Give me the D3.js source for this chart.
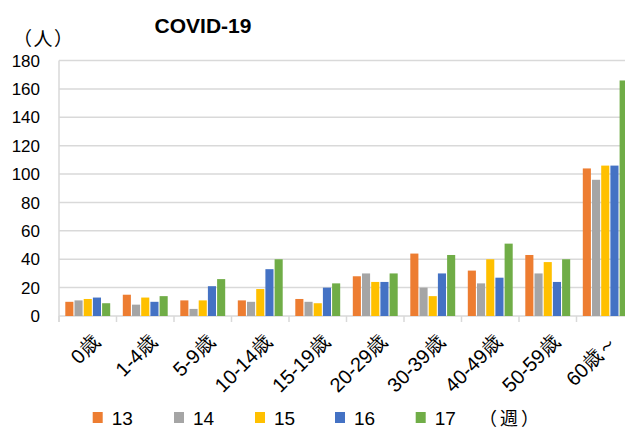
<!DOCTYPE html>
<html><head><meta charset="utf-8">
<script src="https://cdn.jsdelivr.net/npm/d3@7/dist/d3.min.js"></script>
<style>body{margin:0;background:#fff;overflow:hidden}svg{display:block}</style>
</head><body>
<script>
const categories = ["0歳","1-4歳","5-9歳","10-14歳","15-19歳","20-29歳","30-39歳","40-49歳","50-59歳","60歳～"];
const seriesNames = ["13","14","15","16","17"];
const w13 = [10,15,11,11,12,28,44,32,43,104];
const w14 = [11,8,5,10,10,30,20,23,30,96];
const w15 = [12,13,11,19,9,24,14,40,38,106];
const w16 = [13,10,21,33,20,24,30,27,24,106];
const w17 = [9,14,26,40,23,30,43,51,40,166];
const seriesValues = [w13,w14,w15,w16,w17];
const colors = ["#ED7D31","#A5A5A5","#FFC000","#4472C4","#70AD47"];
const yTicks = [0,20,40,60,80,100,120,140,160,180];

const W = 625, H = 430;
const svg = d3.select("body").append("svg").attr("width", W).attr("height", H);
const font = "'Liberation Sans', Arial, sans-serif";
const cjk = "'Noto Sans CJK JP', sans-serif";

const x0 = d3.scaleBand().domain(categories).range([59, 634]).paddingInner(0).paddingOuter(0);
const bw = x0.bandwidth();
const x1 = d3.scaleBand().domain(seriesNames).range([6.3, bw - 6.3]).paddingInner(0.12);
const y = d3.scaleLinear().domain([0, 180]).range([316, 60.6]);

// gridlines
svg.append("g").selectAll("line").data(yTicks).join("line")
  .attr("x1", 59).attr("x2", W).attr("y1", d => y(d)).attr("y2", d => y(d))
  .attr("stroke", "#d9d9d9").attr("stroke-width", 1.5);
// left axis line
svg.append("line").attr("x1", 59).attr("x2", 59).attr("y1", y(180)).attr("y2", 322)
  .attr("stroke", "#d9d9d9").attr("stroke-width", 1.5);

// y tick labels
svg.append("g").selectAll("text").data(yTicks).join("text")
  .attr("x", 40).attr("y", d => y(d)).attr("dy", "0.36em")
  .attr("text-anchor", "end").attr("font-family", font).attr("font-size", 17).attr("fill", "#000")
  .text(d => d);

// category tick marks
const bounds = categories.map(c => x0(c));
svg.append("g").selectAll("line").data(bounds).join("line")
  .attr("x1", d => d).attr("x2", d => d).attr("y1", 316).attr("y2", 322)
  .attr("stroke", "#d9d9d9").attr("stroke-width", 1.5);

// bars
const g = svg.append("g");
seriesNames.forEach((s, si) => {
  g.append("g").selectAll("rect").data(categories).join("rect")
    .attr("x", c => x0(c) + x1(s))
    .attr("width", x1.bandwidth())
    .attr("y", (c, i) => y(seriesValues[si][i]))
    .attr("height", (c, i) => y(0) - y(seriesValues[si][i]))
    .attr("fill", colors[si]);
});

// category labels
svg.append("g").selectAll("text").data(categories).join("text")
  .attr("transform", c => `translate(${x0(c) + bw / 2 + 3},${333}) rotate(-45)`)
  .attr("text-anchor", "end").attr("dy", "0.72em")
  .attr("font-family", font).attr("font-size", 20).attr("fill", "#000")
  .text(c => c);

// title
svg.append("text").attr("x", 203).attr("y", 32.5).attr("text-anchor", "middle")
  .attr("font-family", font).attr("font-weight", "bold").attr("font-size", 21).attr("fill", "#000")
  .text("COVID-19");
// unit label
svg.append("text").attr("x", 13).attr("y", 46)
  .attr("font-family", cjk).attr("font-size", 19).attr("letter-spacing", 1.5).attr("fill", "#000")
  .text("（人）");

// legend
const legX = [92.7, 174, 255, 335, 415.7];
const leg = svg.append("g");
seriesNames.forEach((s, i) => {
  leg.append("rect").attr("x", legX[i]).attr("y", 412).attr("width", 10).attr("height", 11).attr("fill", colors[i]);
  leg.append("text").attr("x", legX[i] + 19).attr("y", 424.5)
    .attr("font-family", font).attr("font-size", 19).attr("fill", "#000").text(s);
});
leg.append("text").attr("x", 479).attr("y", 425)
  .attr("font-family", cjk).attr("font-size", 18).attr("letter-spacing", 3).attr("fill", "#000").text("（週）");
</script>
</body></html>
